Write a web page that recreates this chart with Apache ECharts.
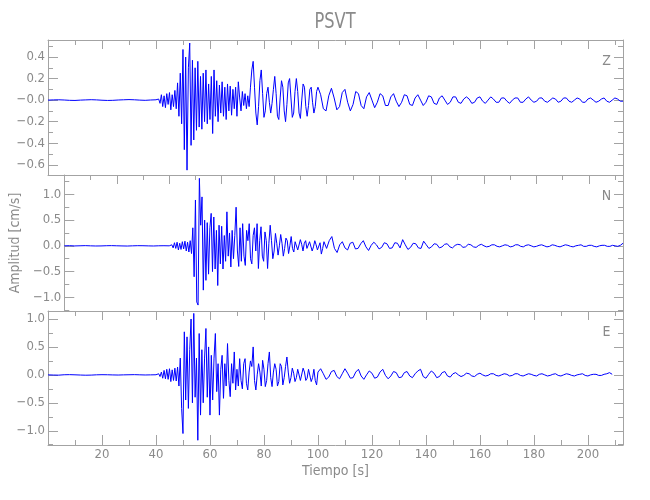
<!DOCTYPE html>
<html><head><meta charset="utf-8">
<script src="https://cdn.jsdelivr.net/npm/echarts@6/dist/echarts.min.js"></script>
<style>html,body{margin:0;padding:0;background:#fff}#c{width:650px;height:500px}</style>
</head><body><div id="c"></div>
<script>
// ---- Data ----
const chartTitle = 'PSVT';
const componentNames = ['Z', 'N', 'E'];
const xLabel = 'Tiempo [s]';
const yLabel = 'Amplitud [cm/s]';
// time sampling of the traces: pre-event every 2 s from 0, main every 0.5 s from 40.5, coda every 1 s from 101
const preStart = 0, preStep = 2;
const mainStart = 40.5, mainStep = 0.5;
const codaStart = 101, codaStep = 1;
const xMin = 0, xMax = 213, xStep = 20;
const yMins = [-0.695, -1.265, -1.255];
const yMaxs = [0.558, 1.375, 1.143];
const ySteps = [0.2, 0.5, 0.5];

const zPre = [0.000,0.002,0.003,0.001,-0.002,-0.003,0.000,0.002,0.004,0.002,-0.001,-0.003,-0.002,0.001,0.003,0.005,0.003,0.000,-0.002,0.001,0.003];
const zMain = [
 0.00,0.01,-0.03,0.05,-0.06,0.04,-0.07,0.06,-0.04,0.07,
 -0.09,0.05,-0.06,0.09,-0.08,0.16,-0.15,0.25,-0.22,0.47,
 -0.46,0.40,-0.65,0.30,0.53,-0.42,0.37,-0.37,0.30,-0.28,
 0.36,-0.25,0.22,-0.27,0.25,-0.20,0.28,-0.22,0.15,-0.18,
 0.22,-0.31,0.28,-0.15,0.18,-0.20,0.14,-0.12,0.17,-0.15,
 0.12,-0.18,0.15,-0.10,0.13,-0.14,0.10,-0.08,0.12,-0.15,
 0.17,0.02,-0.10,0.08,-0.05,0.06,-0.08,0.04,-0.06,0.12,
 0.28,0.36,0.12,-0.12,-0.23,-0.06,0.18,0.28,0.06,-0.16,
 -0.10,0.06,0.12,-0.02,-0.12,-0.03,0.10,0.22,0.06,-0.15,
 -0.18,0.02,0.18,0.12,-0.10,-0.20,-0.04,0.16,0.20,0.02,
 -0.16,-0.12,0.08,0.20,0.08,-0.12,-0.17,0.00,0.15,0.12,
 -0.06,-0.15,-0.05,0.10,0.12,-0.02,-0.12,-0.06,0.08,0.12];
const zCoda = [
 0.05,-0.08,-0.10,0.04,0.11,0.02,-0.09,-0.06,0.07,0.10,
 -0.02,-0.10,-0.04,0.08,0.06,-0.05,-0.08,0.03,0.07,0.00,
 -0.07,-0.02,0.06,0.04,-0.05,-0.05,0.03,0.06,-0.01,-0.06,
 -0.02,0.05,0.04,-0.04,-0.05,0.02,0.05,0.00,-0.05,-0.02,
 0.04,0.03,-0.03,-0.04,0.02,0.04,0.00,-0.04,-0.02,0.03,
 0.03,-0.02,-0.03,0.01,0.03,0.01,-0.03,-0.02,0.02,0.03,
 -0.01,-0.03,0.00,0.03,0.01,-0.02,-0.02,0.02,0.02,-0.01,
 -0.03,0.00,0.02,0.02,-0.02,-0.02,0.01,0.03,0.00,-0.02,
 -0.01,0.02,0.02,-0.01,-0.02,0.00,0.02,0.01,-0.02,-0.01,
 0.02,0.02,-0.01,-0.02,0.00,0.02,0.01,-0.02,-0.02,0.01,
 0.02,0.00,-0.02,-0.01,0.01,0.02,-0.01,-0.02,0.00,0.02,
 0.01,-0.01,-0.01];

const nPre = [0.000,0.003,-0.002,0.001,0.004,0.000,-0.003,-0.002,0.002,0.004,0.001,-0.002,-0.004,0.000,0.003,0.002,-0.001,-0.003,0.001,0.002,0.000];
const nMain = [
 0.00,0.02,-0.04,0.06,-0.05,0.07,-0.08,0.05,-0.07,0.08,
 -0.06,0.09,-0.10,0.07,-0.12,0.10,-0.15,0.35,-0.60,0.89,
 -1.09,-1.15,1.31,0.40,0.95,-0.86,0.50,-0.67,0.45,-0.55,
 0.35,0.63,-0.50,0.56,-0.45,0.30,-0.77,0.40,-0.35,0.38,
 -0.45,0.20,-0.30,0.66,-0.20,0.25,-0.41,0.30,-0.25,0.20,
 0.75,-0.10,-0.40,0.35,-0.30,0.43,-0.20,-0.38,0.30,0.10,
 0.43,-0.25,-0.35,0.20,0.35,-0.10,0.43,-0.44,0.10,0.37,
 -0.20,-0.30,0.27,0.10,-0.44,0.05,0.40,0.10,-0.25,-0.10,
 0.24,0.05,-0.18,0.00,0.22,0.05,-0.20,-0.05,0.15,0.10,
 -0.15,0.00,0.18,-0.05,-0.12,0.08,0.10,-0.08,-0.10,0.12,
 0.03,-0.10,0.05,0.10,-0.05,-0.08,0.08,0.06,-0.10,-0.02,
 0.10,0.02,-0.08,-0.06,0.06,-0.16,-0.05,0.08,0.05,-0.05];
const nCoda = [
 0.10,0.18,-0.05,-0.13,0.02,0.08,-0.04,-0.08,0.05,0.07,
 -0.06,-0.05,0.04,0.10,-0.02,-0.09,0.01,0.07,0.02,-0.06,
 -0.03,0.06,0.04,-0.05,-0.04,0.06,0.05,-0.04,0.12,0.02,
 -0.07,-0.03,0.05,0.04,-0.04,-0.05,0.09,0.02,-0.05,-0.02,
 0.04,0.03,-0.04,-0.02,0.03,0.04,-0.02,-0.04,0.01,0.03,
 0.02,-0.03,-0.02,0.03,0.02,-0.02,-0.03,0.01,0.03,0.00,
 -0.02,-0.01,0.02,0.02,-0.01,-0.02,0.00,0.02,0.01,-0.02,
 -0.01,0.02,0.02,-0.01,-0.02,0.01,0.02,0.00,-0.02,-0.01,
 0.01,0.02,0.00,-0.02,-0.01,0.02,0.01,-0.01,-0.02,0.00,
 0.02,0.01,-0.01,-0.02,0.00,0.01,0.02,-0.01,-0.01,0.01,
 0.01,-0.01,-0.02,0.00,0.01,0.01,-0.01,-0.01,0.01,0.00,
 -0.01,0.01,0.05];

const ePre = [0.000,-0.003,-0.005,0.002,0.004,0.001,-0.003,-0.006,-0.004,0.001,0.003,0.002,-0.001,-0.003,0.000,0.002,0.004,0.001,-0.002,0.000,0.002];
const eMain = [
 0.00,0.02,-0.03,0.05,-0.06,0.08,-0.07,0.10,-0.08,0.11,
 -0.12,0.09,-0.10,0.12,-0.11,0.14,-0.20,0.30,-0.60,-1.05,
 0.77,-0.45,0.68,-0.60,0.45,1.00,-0.50,1.10,-0.40,0.30,
 -1.17,0.74,-0.72,0.45,-0.50,0.30,0.83,-0.40,0.50,-0.72,
 0.35,-0.45,0.30,0.74,-0.30,0.20,-0.72,0.10,0.35,-0.42,
 0.20,-0.20,0.56,-0.10,-0.39,0.20,-0.15,0.41,-0.27,0.10,
 -0.20,0.29,-0.10,-0.25,0.20,0.29,-0.15,-0.27,0.05,0.25,
 0.15,0.50,-0.10,-0.27,0.00,0.20,0.05,-0.20,0.26,0.10,
 -0.21,-0.10,0.20,0.41,-0.05,-0.21,0.05,0.20,0.10,-0.20,
 -0.12,0.20,0.15,-0.18,-0.05,0.15,0.32,0.05,-0.15,-0.05,
 0.12,0.03,-0.12,-0.05,0.10,0.08,-0.10,-0.08,0.12,0.05,
 -0.10,-0.06,0.10,0.08,-0.12,-0.05,0.10,-0.10,-0.18,0.05];
const eCoda = [
 0.11,0.02,-0.08,-0.04,0.06,0.08,-0.03,-0.07,0.02,0.11,
 0.03,-0.06,-0.05,0.05,0.10,-0.02,-0.08,0.00,0.07,0.03,
 -0.06,-0.04,0.05,0.10,-0.01,-0.07,-0.02,0.06,0.04,-0.05,
 -0.04,0.04,0.06,-0.02,-0.05,0.02,0.07,0.10,-0.03,-0.06,
 0.01,0.07,0.03,-0.05,-0.03,0.04,0.06,-0.02,-0.04,0.02,
 0.04,0.00,-0.03,-0.01,0.03,0.02,-0.02,-0.03,0.01,0.03,
 0.00,-0.02,-0.01,0.02,0.02,-0.01,-0.02,0.00,0.02,0.01,
 -0.02,-0.01,0.02,0.02,-0.01,-0.02,0.00,0.02,0.01,-0.01,
 -0.02,0.01,0.02,0.00,-0.02,-0.01,0.01,0.02,-0.01,-0.02,
 0.00,0.02,0.01,-0.01,-0.02,0.00,0.01,0.02,-0.01,-0.02,
 0.00,0.01,0.01,-0.01,-0.01,0.01,0.02,0.04,0.01];

// ---- Build series data (time grid + values) ----
function buildTrace(pre, main, coda) {
  const d = [];
  pre.forEach((v, i) => d.push([preStart + preStep * i, v]));
  main.forEach((v, i) => d.push([mainStart + mainStep * i, v]));
  coda.forEach((v, i) => d.push([codaStart + codaStep * i, v]));
  return d;
}
const traces = [buildTrace(zPre, zMain, zCoda), buildTrace(nPre, nMain, nCoda), buildTrace(ePre, eMain, eCoda)];

// ---- Styling ----
const FONT = '"Liberation Sans Narrow","DejaVu Sans Condensed","Liberation Sans",sans-serif';
const TEXT = '#8a8a8a';
const LINE = '#a3a3a3';
const grids = [
  {left: 48, width: 575, top: 40, height: 135},
  {left: 48, width: 575, top: 175, height: 136},
  {left: 48, width: 575, top: 311, height: 134}
];
function yFmt(idx) {
  return function (v) {
    if (Math.abs(v) < 1e-9) return idx === 0 ? '\u22120.0' : '0.0';
    return (v < 0 ? '\u2212' : '') + Math.abs(v).toFixed(1);
  };
}
const xAxes = [], yAxes = [], series = [];
for (let i = 0; i < 3; i++) {
  const last = i === 2;
  const baseX = {
    type: 'value', gridIndex: i, min: xMin, max: xMax, minInterval: xStep, maxInterval: xStep, splitNumber: 11,
    axisLine: {show: true, onZero: false, lineStyle: {color: LINE, width: 1}},
    splitLine: {show: false}, minorSplitLine: {show: false}
  };
  xAxes.push(Object.assign({}, baseX, {
    position: 'bottom',
    axisTick: {show: last, inside: true, length: 10, lineStyle: {color: LINE}},
    minorTick: {show: last, splitNumber: 2, length: 5, lineStyle: {color: LINE}},
    axisLabel: {show: last, color: TEXT, fontSize: 13, fontFamily: FONT, margin: 3, showMinLabel: false, showMaxLabel: false},
    name: last ? xLabel : '', nameLocation: 'middle', nameGap: 19,
    nameTextStyle: {color: TEXT, fontSize: 14, fontFamily: FONT}
  }));
  xAxes.push(Object.assign({}, baseX, {
    position: 'top',
    axisTick: {show: true, inside: true, length: 9, lineStyle: {color: LINE}},
    minorTick: {show: true, splitNumber: 2, length: 5, lineStyle: {color: LINE}},
    axisLabel: {show: false}
  }));
  const baseY = {
    type: 'value', gridIndex: i, min: yMins[i], max: yMaxs[i], minInterval: ySteps[i], maxInterval: ySteps[i], splitNumber: 6,
    axisLine: {show: true, onZero: false, lineStyle: {color: LINE, width: 1}},
    splitLine: {show: false}, minorSplitLine: {show: false}
  };
  yAxes.push(Object.assign({}, baseY, {
    position: 'left',
    axisTick: {show: true, inside: true, length: 10, lineStyle: {color: LINE}},
    minorTick: {show: true, splitNumber: 2, length: 5, lineStyle: {color: LINE}},
    axisLabel: {show: true, color: TEXT, fontSize: 13, fontFamily: FONT, margin: 3, showMinLabel: false, showMaxLabel: false, formatter: yFmt(i)},
    name: i === 1 ? yLabel : '', nameLocation: 'middle', nameGap: 27,
    nameTextStyle: {color: TEXT, fontSize: 14, fontFamily: FONT}
  }));
  yAxes.push(Object.assign({}, baseY, {
    position: 'right',
    axisTick: {show: true, inside: true, length: 9, lineStyle: {color: LINE}},
    minorTick: {show: true, splitNumber: 2, length: 5, lineStyle: {color: LINE}},
    axisLabel: {show: false}
  }));
  series.push({
    type: 'line', name: componentNames[i], xAxisIndex: 2 * i, yAxisIndex: 2 * i,
    data: traces[i], showSymbol: false, symbol: 'none', silent: true, clip: true,
    lineStyle: {color: '#0000ff', width: 1}
  });
}
const panelLabelY = [61, 196, 332];
const graphics = [{
  type: 'text', x: 335, y: 22, scaleX: 0.82,
  style: {text: chartTitle, font: '22px ' + FONT, fill: TEXT, align: 'center', verticalAlign: 'middle'}
}];
componentNames.forEach((c, i) => graphics.push({
  type: 'text', x: 606.5, y: panelLabelY[i],
  style: {text: c, font: '14px ' + FONT, fill: TEXT, align: 'center', verticalAlign: 'middle'}
}));

const chart = echarts.init(document.getElementById('c'), null, {renderer: 'canvas'});
chart.setOption({
  animation: false,
  backgroundColor: '#ffffff',
  grid: grids,
  xAxis: xAxes,
  yAxis: yAxes,
  series: series,
  graphic: graphics
});
</script></body></html>
